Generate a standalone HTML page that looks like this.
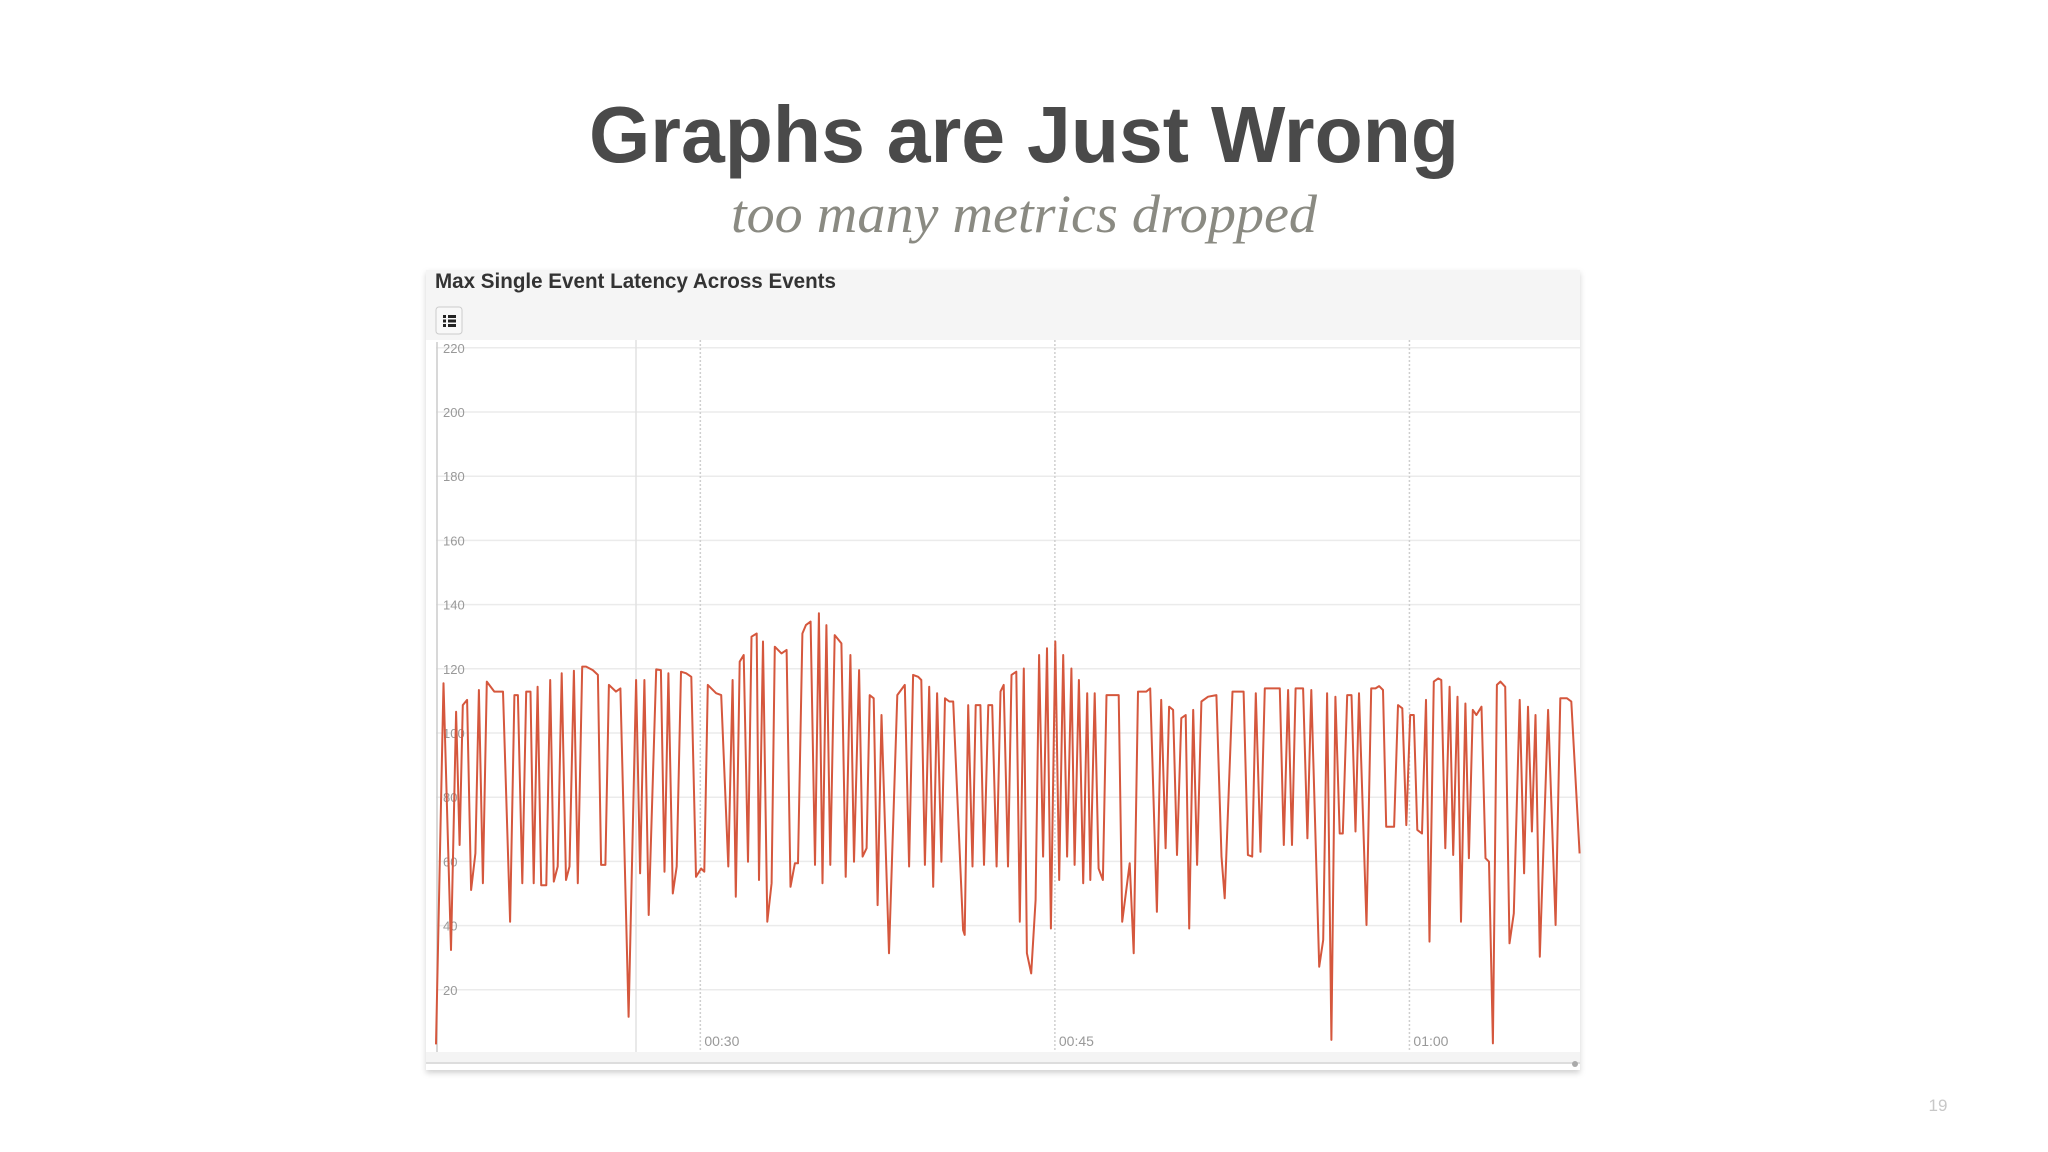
<!DOCTYPE html>
<html><head><meta charset="utf-8"><style>
html,body{margin:0;padding:0;background:#fff;}
svg{display:block;}
</style></head><body>
<svg width="2048" height="1152" viewBox="0 0 2048 1152" xmlns="http://www.w3.org/2000/svg">
<defs>
<filter id="sh" x="-5%" y="-5%" width="110%" height="110%"><feDropShadow dx="0" dy="3" stdDeviation="3" flood-color="#000" flood-opacity="0.18"/></filter>
</defs>
<text x="1024" y="162" text-anchor="middle" font-family="Liberation Sans, sans-serif" font-weight="bold" font-size="80" fill="#4a4a4a" textLength="870" lengthAdjust="spacingAndGlyphs">Graphs are Just Wrong</text>
<text x="1024" y="232" text-anchor="middle" font-family="Liberation Serif, serif" font-style="italic" font-size="54" fill="#8a8a82" textLength="586" lengthAdjust="spacingAndGlyphs">too many metrics dropped</text>
<g>
<rect x="426" y="270" width="1154" height="800" fill="#fff" filter="url(#sh)"/>
<rect x="426" y="270" width="1154" height="70" fill="#f5f5f5"/>
<text x="435" y="288" font-family="Liberation Sans, sans-serif" font-weight="bold" font-size="21" fill="#333" textLength="401" lengthAdjust="spacingAndGlyphs">Max Single Event Latency Across Events</text>
<g>
<rect x="436" y="307" width="26" height="27" rx="3" fill="#f8f8f8" stroke="#ccc"/>
<rect x="443" y="315" width="3" height="3" fill="#222"/><rect x="448" y="315" width="8" height="3" fill="#222"/>
<rect x="443" y="319.5" width="3" height="3" fill="#222"/><rect x="448" y="319.5" width="8" height="3" fill="#222"/>
<rect x="443" y="324" width="3" height="3" fill="#222"/><rect x="448" y="324" width="8" height="3" fill="#222"/>
</g>
<rect x="436" y="340" width="1144" height="712" fill="#fff"/>
<rect x="426" y="1052" width="1154" height="11" fill="#f4f4f4"/>
<line x1="426" y1="1063" x2="1580" y2="1063" stroke="#ddd" stroke-width="2"/>
<circle cx="1575" cy="1064" r="3" fill="#aaa"/>
<g id="grid"></g>
<g id="series"></g>
</g>
<text x="1938" y="1111" text-anchor="middle" font-family="Liberation Sans, sans-serif" font-size="17" fill="#c8c8c8">19</text>
</svg>
<script>
const yTicks = [20,40,60,80,100,120,140,160,180,200,220];
const xTickSeconds = [1800,2700,3600];
const xTickLabels = ["00:30","00:45","01:00"];
const seconds = [1129,1148,1167,1180,1189,1197,1208,1218,1229,1238,1248,1258,1277,1299,1317,1328,1337,1348,1358,1369,1377,1387,1396,1409,1419,1428,1438,1448,1459,1468,1479,1489,1500,1510,1527,1540,1548,1559,1568,1586,1597,1618,1637,1647,1658,1669,1688,1700,1709,1719,1730,1740,1751,1764,1777,1789,1802,1810,1819,1840,1853,
1871,1882,1890,1900,1910,1921,1930,1943,1949,1959,1970,1981,1989,2006,2019,2029,2040,2048,2059,2068,2080,2091,2101,2110,2120,2130,2141,2158,2169,2181,2190,2203,2212,2222,2230,2240,2250,2260,2279,2300,2319,2330,2340,2353,2361,2370,2381,2391,2401,2412,2421,2432,2442,2467,2471,2480,2491,2499,2511,2520,2531,2541,2552,2562,2570,2581,2590,2602,
2611,2621,2629,2640,2651,2660,2670,2680,2690,2701,2711,2721,2731,2742,2750,2761,2772,2782,2790,2801,2811,2822,2831,2862,2871,2890,2900,2911,2932,2942,2959,2970,2981,2990,3000,3010,3021,3032,3041,3051,3061,3072,3089,3110,3123,3131,3151,3179,3190,3201,3210,3222,3233,3271,3281,3292,3302,3311,3330,
3341,3351,3371,3381,3391,3402,3412,3423,3431,3442,3453,3463,3472,3491,3503,3514,3523,3533,3541,3561,3571,3582,3592,3602,3611,3620,3632,3642,3651,3662,3673,3681,3691,3702,3711,3722,3731,3742,3751,3761,3770,3783,3793,3802,3812,3822,3831,3843,3854,3865,3880,3891,3901,3911,3920,3931,3952,3971,3983,4000,4011,4032];
const latency = [3,115.5,32.4,106.6,65.1,108.7,110.3,51.1,62.5,113.4,53.2,116,112.9,112.9,41.2,111.8,111.8,53.2,112.9,112.9,53.2,114.4,52.6,52.6,116.5,53.7,58.4,118.6,54.2,58.4,119.4,53.2,120.7,120.7,119.6,118.1,58.9,58.9,115,112.9,113.9,11.6,116.5,56.3,116.5,43.3,119.8,119.6,56.8,118.6,50,58.4,119.1,118.6,117.5,55.2,57.8,56.8,115,112.4,111.8,
58.4,116.5,49,122.2,124.3,59.9,130,131,54.2,128.5,41.2,53.2,126.9,124.8,125.9,52.1,59.4,59.4,131,133.6,134.7,58.9,137.3,53.2,133.6,58.9,130.5,127.9,55.2,124.3,59.9,119.6,61.5,64.1,111.8,110.8,46.4,105.6,31.4,111.8,115,58.4,118.1,117.5,116.5,58.9,114.4,52.1,112.4,59.9,110.8,109.8,109.8,38.6,37.1,108.7,58.4,108.7,108.7,58.9,108.7,108.7,58.4,112.9,115,58.4,118.1,119.1,
41.2,120.1,31.4,25.1,48,124.3,61.5,126.4,39.1,128.5,54.2,124.3,61.5,120.1,58.9,116.5,53.2,112.4,54.2,112.4,57.8,54.2,111.8,111.8,41.2,59.4,31.4,112.9,112.9,113.9,44.3,110.3,64.1,108.2,107.2,62,104.6,105.6,39.1,107.2,58.9,109.8,111.3,111.8,61.5,48.5,112.9,112.9,62,61.5,112.4,63,113.9,113.9,65.1,113.4,65.1,113.9,113.9,
67.2,113.4,27.2,35.5,112.4,4.4,111.3,68.7,68.7,111.8,111.8,69.3,112.4,40.2,113.9,113.9,114.6,113.4,70.8,70.8,108.7,107.7,71.3,105.6,105.6,69.8,68.7,110.3,35,116,117,116.5,64.1,114.4,62,111.3,41.2,109.2,61,107.2,105.6,108.2,61,59.9,3.3,115,116,114.4,34.5,43.8,110.3,56.3,108.2,69.3,105.6,30.3,107.2,40.2,110.8,110.8,109.8,62.5,48];

const NS = "http://www.w3.org/2000/svg";
const xMin = 1129, xMax = 4033, plotL = 436, plotR = 1580;
const yBase = 1054, pxPerUnit = 3.21;
function xScale(s){ return plotL + (s - xMin) / (xMax - xMin) * (plotR - plotL); }
function yScale(v){ return yBase - v * pxPerUnit; }

const grid = document.getElementById('grid');
yTicks.forEach(function(t){
  const l = document.createElementNS(NS,'line');
  
  
  l.setAttribute('x1', plotL); l.setAttribute('x2', plotR);
  l.setAttribute('y1', yScale(t)); l.setAttribute('y2', yScale(t));
  l.setAttribute('stroke', '#ebebeb'); l.setAttribute('stroke-width', '1.5');
  grid.appendChild(l);
  const tx = document.createElementNS(NS,'text');
  
  
  tx.setAttribute('x', 443); tx.setAttribute('y', yScale(t) + 5);
  tx.setAttribute('font-family', 'Liberation Sans, sans-serif');
  tx.setAttribute('font-size', '13'); tx.setAttribute('fill', '#999');
  tx.textContent = t;
  grid.appendChild(tx);
});
const solid = document.createElementNS(NS,'line');


solid.setAttribute('x1', 636); solid.setAttribute('x2', 636);
solid.setAttribute('y1', 340); solid.setAttribute('y2', 1052);
solid.setAttribute('stroke', '#e2e2e2'); solid.setAttribute('stroke-width', '1.5');
grid.appendChild(solid);
const axisL = document.createElementNS(NS,'line');


axisL.setAttribute('x1', 437); axisL.setAttribute('x2', 437);
axisL.setAttribute('y1', 342); axisL.setAttribute('y2', 1052);
axisL.setAttribute('stroke', '#ccc'); axisL.setAttribute('stroke-width', '1.5');
grid.appendChild(axisL);
xTickSeconds.forEach(function(s, i){
  const l = document.createElementNS(NS,'line');
  
  
  l.setAttribute('x1', xScale(s)); l.setAttribute('x2', xScale(s));
  l.setAttribute('y1', 340); l.setAttribute('y2', 1052);
  l.setAttribute('stroke', '#cfcfcf'); l.setAttribute('stroke-width', '1.5');
  l.setAttribute('stroke-dasharray', '2,2');
  grid.appendChild(l);
  const tx = document.createElementNS(NS,'text');
  
  
  tx.setAttribute('x', xScale(s) + 4); tx.setAttribute('y', 1046);
  tx.setAttribute('font-family', 'Liberation Sans, sans-serif');
  tx.setAttribute('font-size', '14'); tx.setAttribute('fill', '#999');
  tx.textContent = xTickLabels[i];
  grid.appendChild(tx);
});

const series = document.getElementById('series');
const p = document.createElementNS(NS,'polyline');


p.setAttribute('points', seconds.map(function(s, i){ return xScale(s).toFixed(1) + ',' + yScale(latency[i]).toFixed(1); }).join(' '));
p.setAttribute('fill', 'none');
p.setAttribute('stroke', '#d5573d');
p.setAttribute('stroke-width', '2');
p.setAttribute('stroke-linejoin', 'round');
series.appendChild(p);
</script>
</body></html>
